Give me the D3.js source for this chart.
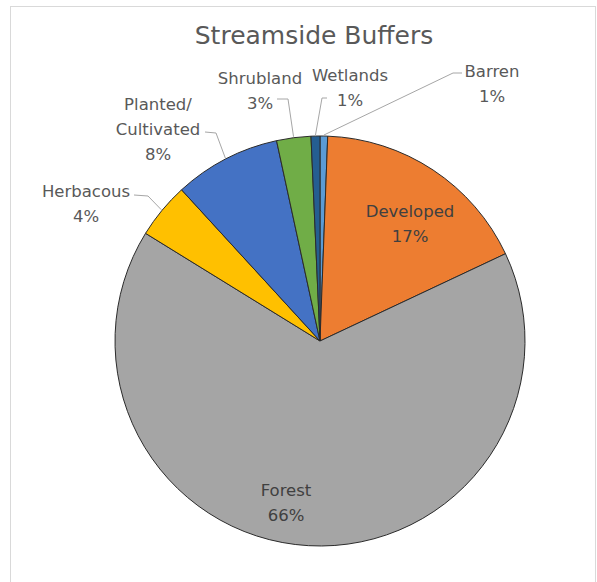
<!DOCTYPE html>
<html><head><meta charset="utf-8">
<script src="https://cdn.jsdelivr.net/npm/d3@7"></script>
<style>body{margin:0;background:#fff}svg{display:block}</style>
</head><body><svg id="c" width="597" height="582"></svg>
<script>
// ---- data ----
const title = "Streamside Buffers";
const categories = ["Barren","Developed","Forest","Herbacous","Planted/Cultivated","Shrubland","Wetlands"];
const labelLines = [["Barren"],["Developed"],["Forest"],["Herbacous"],["Planted/","Cultivated"],["Shrubland"],["Wetlands"]];
const shares = [0.6, 17.4, 65.8, 4.4, 8.4, 2.7, 0.7];
const colors = ["#5B9BD5","#ED7D31","#A5A5A5","#FFC000","#4472C4","#70AD47","#255E91"];

// ---- layout ----
const cx = 320, cy = 341, R = 205, lineH = 25;
const layout = [
  {x:492, y:77, inside:false, lead:[[462,73],[453,73]]},
  {x:410, y:217, inside:true},
  {x:286, y:496, inside:true},
  {x:86, y:197, inside:false, lead:[[134,195],[148,196]]},
  {x:158, y:110, inside:false, lead:[[205,132],[216,133]]},
  {x:260, y:84, inside:false, lead:[[277,99],[288,99]]},
  {x:350, y:81, inside:false, lead:[[327,98],[322,98]]}
];

const svg = d3.select("#c");
svg.append("rect").attr("x",10.5).attr("y",6.5).attr("width",585).attr("height",600)
  .attr("fill","#fff").attr("stroke","#d9d9d9").attr("stroke-width",1);

svg.append("text").attr("x",314).attr("y",44).attr("text-anchor","middle")
  .attr("font-family","DejaVu Sans").attr("font-size",25).attr("fill","#595959").text(title);

const total = d3.sum(shares);
const pie = d3.pie().sort(null).value(d=>d).startAngle(0).endAngle(2*Math.PI);
const arcs = pie(shares);
const arc = d3.arc().innerRadius(0).outerRadius(R);
const edge = d3.arc().innerRadius(R+1).outerRadius(R+1);

const g = svg.append("g").attr("transform",`translate(${cx},${cy})`);
g.selectAll("path").data(arcs).join("path")
  .attr("d",arc).attr("fill",(d,i)=>colors[i])
  .attr("stroke","#2b2b2b").attr("stroke-width",1).attr("stroke-linejoin","round");

// leader lines
arcs.forEach((a,i)=>{
  const L = layout[i];
  if(!L.lead) return;
  const c = edge.centroid(a);
  const pts = L.lead.map(p=>[p[0],p[1]]).concat([[c[0]+cx,c[1]+cy]]);
  svg.append("path").attr("d",d3.line()(pts)).attr("fill","none")
    .attr("stroke","#a6a6a6").attr("stroke-width",1);
});

// labels
arcs.forEach((a,i)=>{
  const L = layout[i];
  const pct = Math.round(shares[i]/total*100) + "%";
  const lines = labelLines[i].concat([pct]);
  const t = svg.append("text").attr("text-anchor","middle")
    .attr("font-family","DejaVu Sans").attr("font-size",16.5)
    .attr("fill", L.inside ? "#404040" : "#595959");
  lines.forEach((s,k)=>t.append("tspan").attr("x",L.x).attr("y",L.y+k*lineH).text(s));
});
</script></body></html>
